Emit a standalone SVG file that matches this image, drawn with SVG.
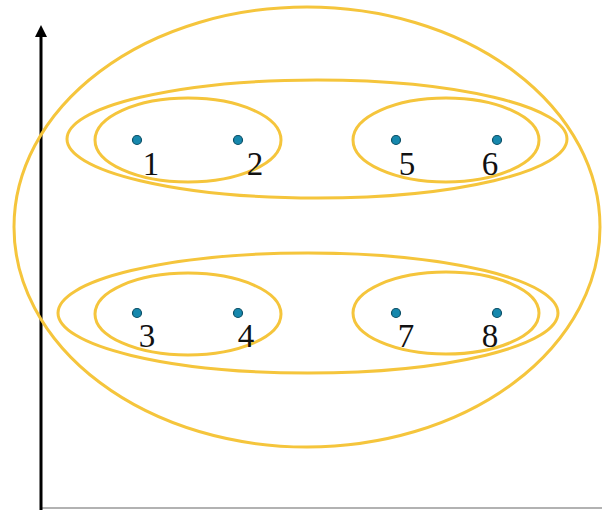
<svg xmlns="http://www.w3.org/2000/svg" width="602" height="510" viewBox="0 0 602 510">
<style>
.ring{fill:none;stroke:#f5c53c;stroke-width:3}
.pt{fill:#1688ad;stroke:#0c4f66;stroke-width:1.2}
.lbl{font-family:"Liberation Serif",serif;font-size:33px;fill:#111;text-anchor:middle}
</style>
<g id="axes">
<line x1="40" y1="508" x2="602" y2="508" stroke="#999" stroke-width="1.5"/>
<line x1="41" y1="510" x2="41" y2="36" stroke="#000" stroke-width="3"/>
<path d="M35,37 L41,25 L47,37 Z" fill="#000"/>
</g>
<g id="clusters">
<ellipse id="c-all" class="ring" cx="307" cy="227" rx="293" ry="220"/>
<ellipse id="c-top" class="ring" cx="317" cy="139" rx="250" ry="59"/>
<ellipse id="c-12" class="ring" cx="188" cy="140" rx="93" ry="42"/>
<ellipse id="c-56" class="ring" cx="446" cy="140" rx="93" ry="42"/>
<ellipse id="c-bottom" class="ring" cx="308" cy="313" rx="250" ry="60"/>
<ellipse id="c-34" class="ring" cx="188" cy="314" rx="93" ry="41"/>
<ellipse id="c-78" class="ring" cx="446" cy="313" rx="93" ry="41"/>
</g>
<g id="n1"><circle class="pt" cx="137" cy="140" r="4.5"/><text class="lbl" x="151" y="175">1</text></g>
<g id="n2"><circle class="pt" cx="238" cy="140" r="4.5"/><text class="lbl" x="255" y="175">2</text></g>
<g id="n5"><circle class="pt" cx="396" cy="140" r="4.5"/><text class="lbl" x="407" y="175">5</text></g>
<g id="n6"><circle class="pt" cx="497" cy="140" r="4.5"/><text class="lbl" x="490" y="175">6</text></g>
<g id="n3"><circle class="pt" cx="137" cy="313" r="4.5"/><text class="lbl" x="147" y="347">3</text></g>
<g id="n4"><circle class="pt" cx="238" cy="313" r="4.5"/><text class="lbl" x="246" y="347">4</text></g>
<g id="n7"><circle class="pt" cx="396" cy="313" r="4.5"/><text class="lbl" x="406" y="347">7</text></g>
<g id="n8"><circle class="pt" cx="497" cy="313" r="4.5"/><text class="lbl" x="490" y="347">8</text></g>
</svg>
